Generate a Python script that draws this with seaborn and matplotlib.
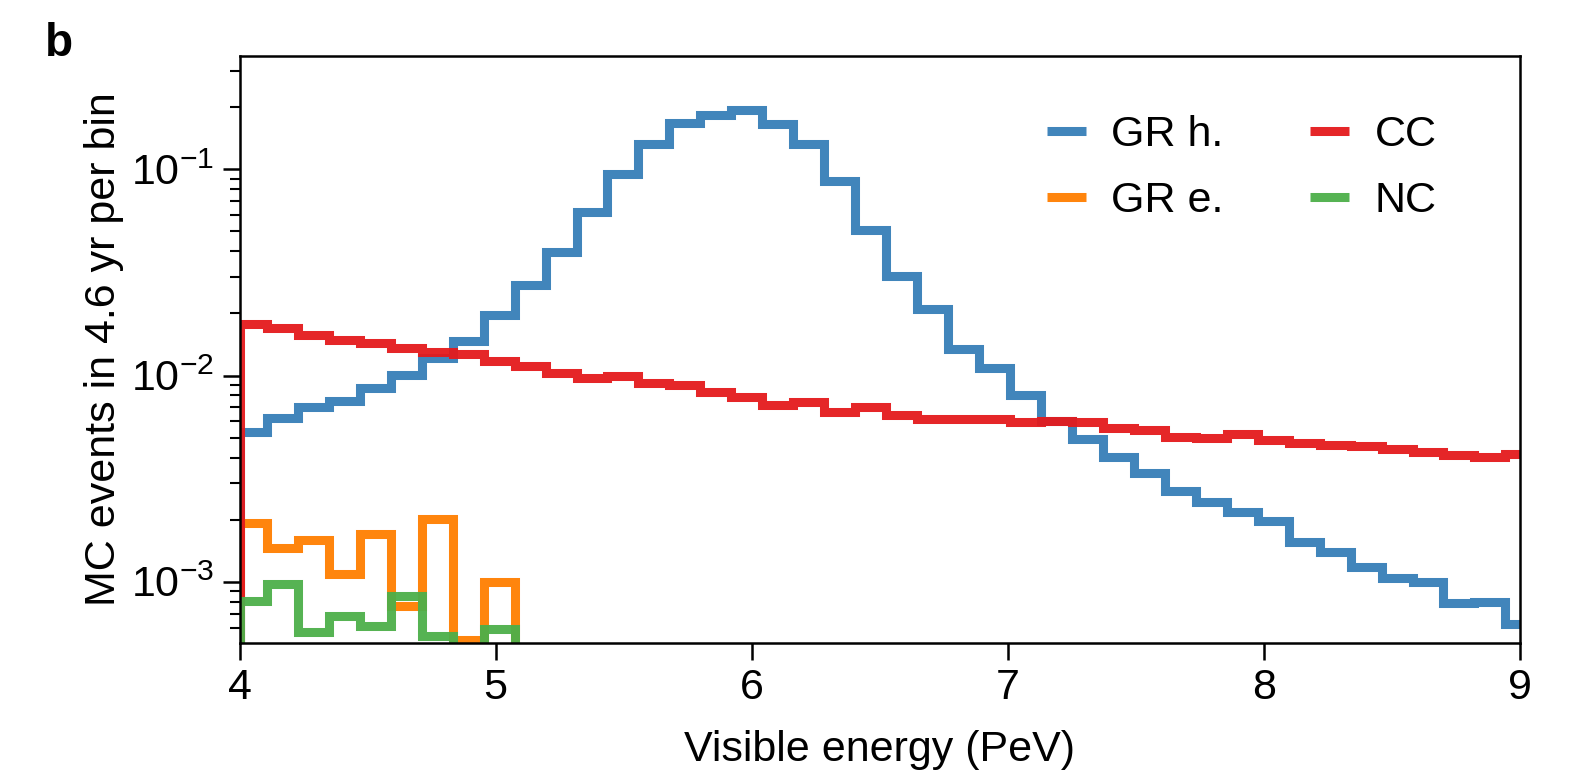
import numpy as np
import matplotlib
matplotlib.use("Agg")
import matplotlib.pyplot as plt
from matplotlib.lines import Line2D
from matplotlib.ticker import LogLocator, NullFormatter, FixedLocator
import seaborn as sns

# ---------------- data ----------------
first_edge = 4.0
first_interior_edge = 4.107
bin_width = 0.1209
n_bins = 42
edges = np.concatenate([[first_edge], first_interior_edge + bin_width * np.arange(n_bins)])

gr_hadronic = [5.3e-3, 6.25e-3, 7.0e-3, 7.5e-3, 8.7e-3, 1.01e-2, 1.22e-2, 1.47e-2, 1.96e-2, 2.76e-2,
               3.95e-2, 6.17e-2, 9.5e-2, 0.133, 0.167, 0.183, 0.193, 0.166, 0.132, 0.088,
               0.0507, 0.0305, 0.0211, 0.0134, 0.0109, 8.07e-3, 6.05e-3, 4.9e-3, 4.04e-3, 3.37e-3,
               2.76e-3, 2.45e-3, 2.19e-3, 1.97e-3, 1.56e-3, 1.40e-3, 1.18e-3, 1.04e-3, 1.0e-3, 7.9e-4,
               7.97e-4, 6.27e-4]
charged_current = [0.0178, 0.0169, 0.0157, 0.0149, 0.0143, 0.0136, 0.0130, 0.0127, 0.0117, 0.0111, 0.0103,
                   9.72e-3, 1.0e-2, 9.24e-3, 9.04e-3, 8.31e-3, 7.86e-3, 7.17e-3, 7.47e-3, 6.64e-3, 7.02e-3,
                   6.45e-3, 6.18e-3, 6.18e-3, 6.15e-3, 5.92e-3, 6.05e-3, 5.92e-3, 5.55e-3, 5.44e-3, 5.06e-3,
                   5.0e-3, 5.22e-3, 4.89e-3, 4.69e-3, 4.59e-3, 4.55e-3, 4.40e-3, 4.27e-3, 4.13e-3, 4.04e-3, 4.17e-3]
gr_electron = [1.93e-3, 1.46e-3, 1.59e-3, 1.09e-3, 1.71e-3, 7.65e-4, 2.01e-3, 5.2e-4, 1.0e-3]
neutral_current = [8.09e-4, 9.78e-4, 5.71e-4, 6.83e-4, 6.09e-4, 8.5e-4, 5.45e-4, 0.0, 5.9e-4]

labels = ["GR h.", "GR e.", "CC", "NC"]
colors = ["#377eb8", "#ff7f00", "#e41a1c", "#4daf4a"]
x_ticks = [4, 5, 6, 7, 8, 9]
x_label = "Visible energy (PeV)"
y_label = "MC events in 4.6 yr per bin"

# ---------------- style ----------------
sns.set_style("ticks")
plt.rcParams["font.family"] = ["Liberation Sans", "DejaVu Sans"]
plt.rcParams["mathtext.fontset"] = "custom"
plt.rcParams["mathtext.rm"] = "Liberation Sans"
plt.rcParams["mathtext.it"] = "Liberation Sans:italic"
plt.rcParams["mathtext.bf"] = "Liberation Sans:bold"
for key in ["text.color", "axes.labelcolor", "xtick.color", "ytick.color", "axes.edgecolor"]:
    plt.rcParams[key] = "black"

FS = 31
LW = 6.5
ALPHA = 0.95

fig = plt.figure(figsize=(15.84, 7.72), dpi=100)
ax = fig.add_axes([0.1512, 0.1671, 0.8084, 0.7604])


def step_xy(values, drop_end):
    n = len(values)
    xs = [edges[0]] + list(edges[:n + 1])
    ys = [0.0] + list(values) + [values[-1]]
    if drop_end:
        xs.append(edges[n])
        ys.append(0.0)
    return np.array(xs), np.array(ys)


series = [(gr_hadronic, colors[0], False), (gr_electron, colors[1], True),
          (charged_current, colors[2], False), (neutral_current, colors[3], True)]
for vals, col, drop in series:
    xs, ys = step_xy(vals, drop)
    sns.lineplot(x=xs, y=ys, ax=ax, drawstyle="steps-post", color=col, lw=LW, alpha=ALPHA,
                 estimator=None, sort=False, solid_joinstyle="miter", solid_capstyle="butt")

ax.set_yscale("log")
ax.set_xlim(4, 9)
ax.set_ylim(5.05e-4, 0.354)

ax.xaxis.set_major_locator(FixedLocator(x_ticks))
ax.set_xticklabels([str(t) for t in x_ticks])
ax.yaxis.set_major_locator(LogLocator(base=10, numticks=10))
ax.yaxis.set_minor_locator(LogLocator(base=10, subs=np.arange(2, 10), numticks=20))
ax.yaxis.set_minor_formatter(NullFormatter())

for s in ax.spines.values():
    s.set_linewidth(1.8)
    s.set_color("black")
ax.tick_params(axis="both", which="major", length=12, width=1.8, labelsize=FS,
               color="black", labelcolor="black", pad=6)
ax.tick_params(axis="y", which="minor", length=7, width=1.5, color="black")
ax.tick_params(axis="x", which="minor", length=0)

ax.set_xlabel(x_label, fontsize=FS, color="black")
ax.set_ylabel(y_label, fontsize=FS, color="black")
ax.xaxis.set_label_coords(0.5, -0.148)
ax.yaxis.set_label_coords(-0.09, 0.5)

handles = [Line2D([0], [0], color=c, lw=LW, alpha=ALPHA, solid_capstyle="butt") for c in colors]
ax.legend(handles, labels, ncol=2, frameon=False, fontsize=FS, loc="upper right",
          bbox_to_anchor=(0.955, 0.943), handlelength=0.9, handletextpad=0.6,
          columnspacing=2.0, labelspacing=0.6, borderaxespad=0.2)

fig.text(0.0284, 0.9275, "b", fontsize=FS + 2, fontweight="heavy", va="baseline", ha="left")

fig.savefig("out.png", dpi=100)
